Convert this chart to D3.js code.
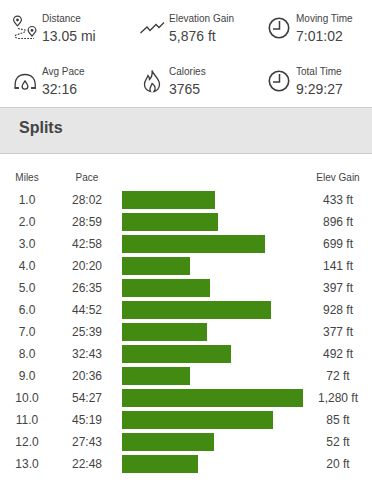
<!DOCTYPE html>
<html>
<head>
<meta charset="utf-8">
<script src="https://cdn.jsdelivr.net/npm/d3@7/dist/d3.min.js"></script>
<style>
html,body{margin:0;padding:0;background:#fff;overflow:hidden}
svg{display:block}
text{font-family:"Liberation Sans",Arial,sans-serif;fill:#444}
</style>
</head>
<body>
<svg id="c" width="372" height="487"></svg>
<script>
const statLabels = ["Distance","Elevation Gain","Moving Time","Avg Pace","Calories","Total Time"];
const statValues = ["13.05 mi","5,876 ft","7:01:02","32:16","3765","9:29:27"];
const statIcons = ["route","gain","clock","gauge","flame","clock"];
const miles = ["1.0","2.0","3.0","4.0","5.0","6.0","7.0","8.0","9.0","10.0","11.0","12.0","13.0"];
const paces = ["28:02","28:59","42:58","20:20","26:35","44:52","25:39","32:43","20:36","54:27","45:19","27:43","22:48"];
const elevGain = ["433 ft","896 ft","699 ft","141 ft","397 ft","928 ft","377 ft","492 ft","72 ft","1,280 ft","85 ft","52 ft","20 ft"];
const columnHeads = ["Miles","Pace","Elev Gain"];
const sectionTitle = "Splits";

const toMin = s => { const [m,sec] = s.split(":").map(Number); return m + sec/60; };
const svg = d3.select("#c");

// stat blocks
const statColX = [42,169,296];
const statIconX = [11,139,268];
const statY = [0,53];
const iconColor = "#3c3c3c";
function drawIcon(g,kind){
  const p = (d,w=1.3,extra={}) => { const e=g.append("path").attr("d",d).attr("fill","none").attr("stroke",iconColor).attr("stroke-width",w); Object.entries(extra).forEach(([k,v])=>e.attr(k,v)); return e; };
  if(kind==="clock"){
    g.append("circle").attr("cx",11).attr("cy",28).attr("r",9.7).attr("fill","none").attr("stroke",iconColor).attr("stroke-width",1.6);
    p("M11.5 21V29H5",1.5);
  } else if(kind==="route"){
    p("M6.5 25.8C4 23 2.6 21.6 2.6 20A3.9 3.9 0 0 1 10.4 20C10.4 21.6 9 23 6.5 25.8Z",1.2);
    g.append("circle").attr("cx",6.5).attr("cy",20).attr("r",1.4).attr("fill",iconColor);
    p("M21 36C18.5 33 17.1 31.6 17.1 30.4A3.9 3.9 0 0 1 24.9 30.4C24.9 31.6 23.5 33 21 36Z",1.2);
    g.append("circle").attr("cx",21).attr("cy",30.4).attr("r",1.4).attr("fill",iconColor);
    p("M7 28.5L14 30C15.5 31 13 32.5 11 33L5 35C3 36.5 5 38.5 8 38.5H23",1.1,{"stroke-dasharray":"1.8 1.2"});
  } else if(kind==="gain"){
    p("M1.5 33L8 27L11 30.5L17 24.5L20 27.5L25 22.5",1.3);
  } else if(kind==="gauge"){
    p("M8 35H4.2C3.4 26 7 21.5 14 21.5C21 21.5 25 26 24.2 35H20",1.3);
    p("M14 28C15.8 30.5 16.9 31.7 16.9 33.3A2.9 2.9 0 0 1 11.1 33.3C11.1 31.7 12.2 30.5 14 28Z",1.3);
    p("M3.5 35H8M20 35H25",1.3);
  } else if(kind==="flame"){
    p("M13 17.5C14 22 20.5 25 20.5 31.5C20.5 35.5 17.5 38 15 38.5C17 36 16.5 33 13.2 30.5C12.5 33 9.5 35 11.5 38.5C8 37.5 5.5 35 5.5 31.5C5.5 27 8 26 9 22.5C10.5 24 10.5 25.5 10.5 26.5C12.5 24.5 13.5 21 13 17.5Z",1.3);
  }
}
statLabels.forEach((lab,i)=>{
  const c=i%3, r=Math.floor(i/3);
  const g=svg.append("g").attr("transform",`translate(0,${statY[r]})`);
  g.append("text").attr("x",statColX[c]).attr("y",22).attr("font-size",10).text(lab);
  g.append("text").attr("x",statColX[c]).attr("y",40.5).attr("font-size",14).text(statValues[i]);
  const ig=g.append("g").attr("transform",`translate(${statIconX[c]},0)`);
  drawIcon(ig,statIcons[i]);
});

// section header
svg.append("rect").attr("x",-2).attr("y",107.5).attr("width",376).attr("height",46)
  .attr("fill","#e6e6e6").attr("stroke","#cdcdcd").attr("stroke-width",1);
svg.append("text").attr("x",19).attr("y",133).attr("font-size",16).attr("font-weight","700").text(sectionTitle);

// table
const y = d3.scaleBand().domain(miles).range([189,475]).paddingInner(4/22).paddingOuter(2/22);
const x = d3.scaleLinear().domain([0,d3.max(paces,toMin)]).range([122,303]);

const headX = [27,87,338];
columnHeads.forEach((h,i)=>svg.append("text").attr("x",headX[i]).attr("y",181).attr("text-anchor","middle").attr("font-size",10).text(h));

const rows = svg.selectAll("g.row").data(miles).join("g").attr("class","row");
rows.append("rect").attr("x",x(0)).attr("y",d=>y(d)).attr("height",y.bandwidth())
  .attr("width",(d,i)=>x(toMin(paces[i]))-x(0)).attr("fill","#438a13").attr("shape-rendering","crispEdges");
rows.append("text").attr("x",27).attr("y",d=>y(d)+y.bandwidth()/2+4).attr("text-anchor","middle").attr("font-size",12).text(d=>d);
rows.append("text").attr("x",87).attr("y",d=>y(d)+y.bandwidth()/2+4).attr("text-anchor","middle").attr("font-size",12).text((d,i)=>paces[i]);
rows.append("text").attr("x",338).attr("y",d=>y(d)+y.bandwidth()/2+4).attr("text-anchor","middle").attr("font-size",12).text((d,i)=>elevGain[i]);
</script>
</body>
</html>
